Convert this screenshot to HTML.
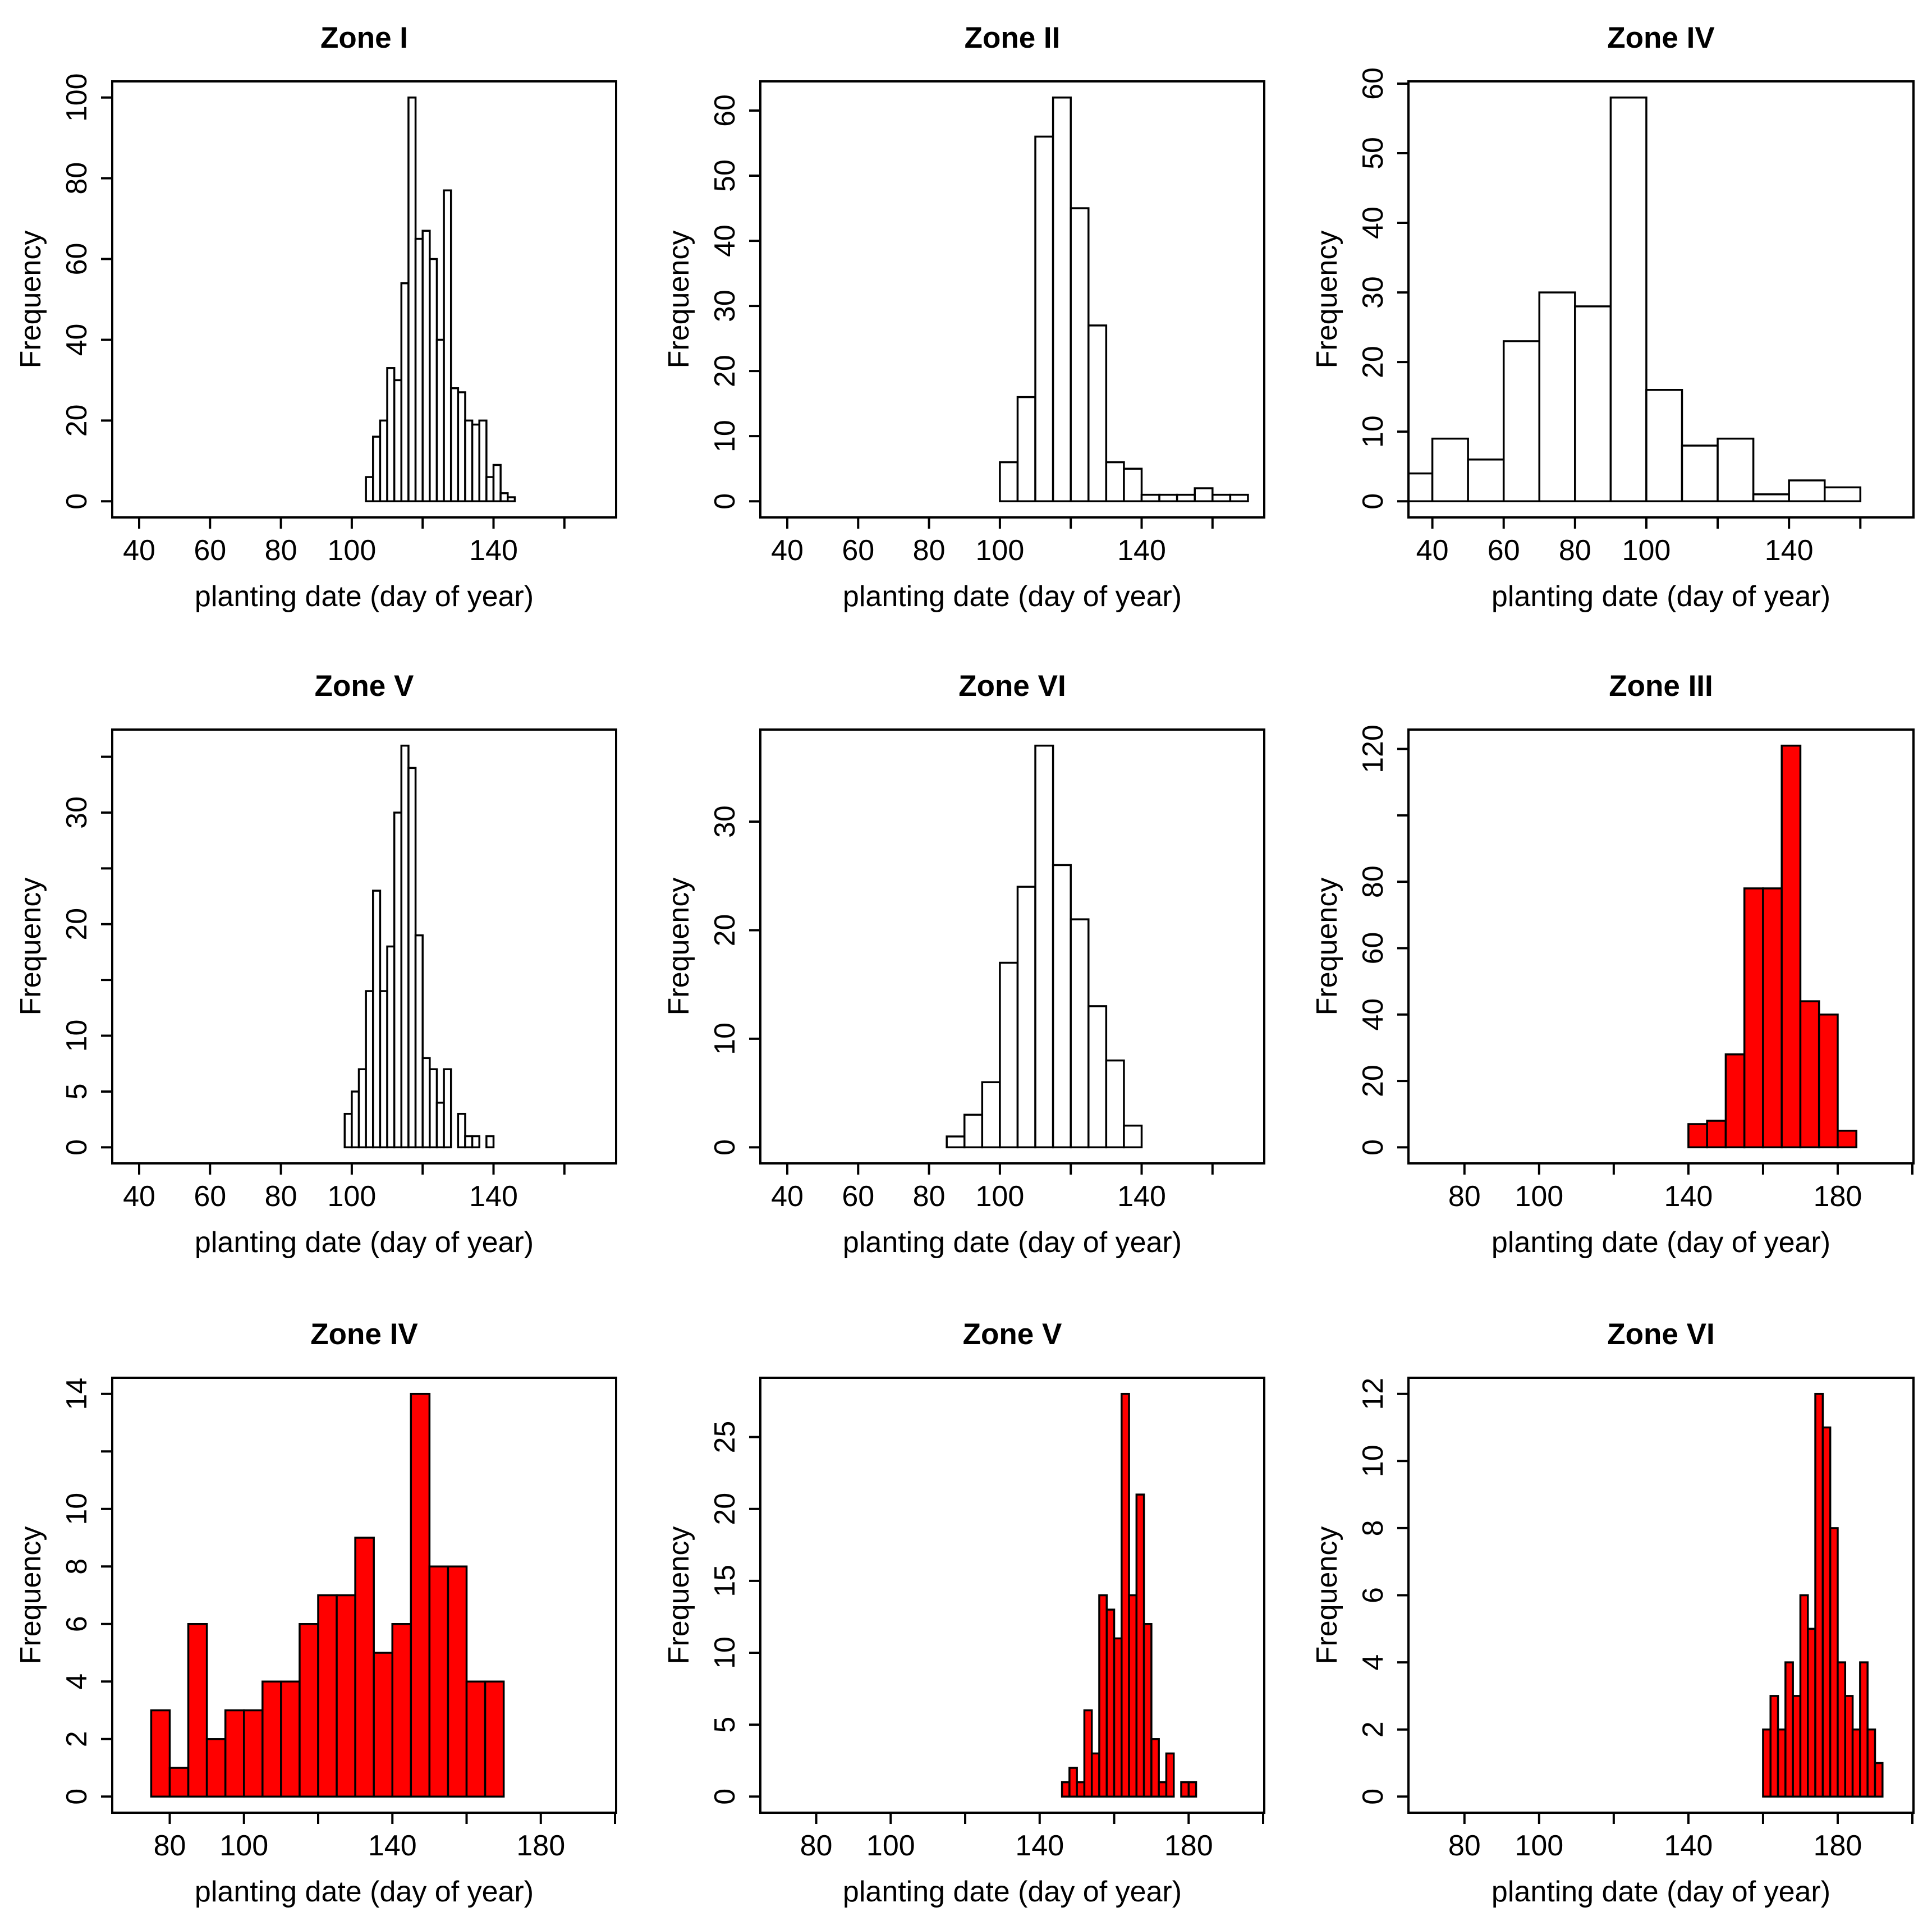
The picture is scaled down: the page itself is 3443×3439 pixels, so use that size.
<!DOCTYPE html>
<html><head><meta charset="utf-8"><style>
html,body{margin:0;padding:0;background:#fff;}
svg{display:block;}
text{font-family:"Liberation Sans",Arial,sans-serif;fill:#000;}
</style></head><body>
<svg id="fig" xmlns="http://www.w3.org/2000/svg" width="3443" height="3439" viewBox="0 0 3443 3439"></svg>
<script>
// ---- data (bin start, bin width, counts) ----
const titles = ["Zone I","Zone II","Zone IV","Zone V","Zone VI","Zone III","Zone IV","Zone V","Zone VI"];
const binStarts = [104,100,30,98,85,140,75,146,160];
const binWidths = [2,5,10,2,5,5,5,2,2];
const counts1 = [6,16,20,33,30,54,100,65,67,60,40,77,28,27,20,19,20,6,9,2,1];
const counts2 = [6,16,56,62,45,27,6,5,1,1,1,2,1,1];
const counts3 = [4,9,6,23,30,28,58,16,8,9,1,3,2];
const counts4 = [3,5,7,14,23,14,18,30,36,34,19,8,7,4,7,0,3,1,1,0,1];
const counts5 = [1,3,6,17,24,37,26,21,13,8,2];
const counts6 = [7,8,28,78,78,121,44,40,5];
const counts7 = [3,1,6,2,3,3,4,4,6,7,7,9,5,6,14,8,8,4,4];
const counts8 = [1,2,1,6,3,14,13,11,28,14,21,12,4,1,3,0,1,1];
const counts9 = [2,3,2,4,3,6,5,12,11,8,4,3,2,4,2,1];
const allCounts = [counts1,counts2,counts3,counts4,counts5,counts6,counts7,counts8,counts9];
const fills = ["#fff","#fff","#fff","#fff","#fff","#f00","#f00","#f00","#f00"];
const xTicksA = [40,60,80,100,120,140,160];
const xLabelsA = ["40","60","80","100","","140",""];
const xTicksB = [80,100,120,140,160,180,200];
const xLabelsB = ["80","100","","140","","180",""];
const yStep = [20,10,10,5,10,20,2,5,2];
const yHide = [[],[],[],[15,25,35],[],[100],[12],[],[]];
const xlims = [[32.4,174.6],[32.4,174.6],[33.3,174.9],[32.4,174.6],[32.4,174.6],[65,200.3],[64.5,200.3],[65,200.3],[65,200.3]];

const NS="http://www.w3.org/2000/svg";
const svg=document.getElementById('fig');
const colX=[[200,1098],[1355,2253],[2510,3410]];
const rowY=[[145,922],[1300,2073],[2455,3230]];
function mk(tag,attrs,parent){const e=document.createElementNS(NS,tag);for(const k in attrs)e.setAttribute(k,attrs[k]);parent.appendChild(e);return e;}

for(let p=0;p<9;p++){
  const c=p%3,r=Math.floor(p/3);
  const [L,R]=colX[c],[T,B]=rowY[r];
  const cnt=allCounts[p];
  const M=Math.max(...cnt);
  const y0=-0.04*M,y1=1.04*M;
  const [x0,x1]=xlims[p];
  const X=v=>L+(v-x0)/(x1-x0)*(R-L);
  const Y=v=>B-(v-y0)/(y1-y0)*(B-T);
  const g=mk('g',{},svg);
  
  
  const cp=mk('clipPath',{id:'cp'+p},g);
  mk('rect',{x:L,y:T,width:R-L,height:B-T},cp);
  const bars=mk('g',{'clip-path':'url(#cp'+p+')'},g);
  
  
  cnt.forEach((v,i)=>{
    const a=binStarts[p]+i*binWidths[p],b=a+binWidths[p];
    const rc=mk('rect',{x:X(a),y:Y(v),width:X(b)-X(a),height:Y(0)-Y(v),fill:fills[p],stroke:'#000','stroke-width':3.5},bars);
    
    
  });
  const box=mk('rect',{x:L,y:T,width:R-L,height:B-T,fill:'none',stroke:'#000','stroke-width':4},g);
  
  
  // x axis
  const xt=p<5?xTicksA:xTicksB, xl=p<5?xLabelsA:xLabelsB;
  const xa=mk('g',{},g);
  
  
  xt.forEach((v,i)=>{
    const x=X(v);
    mk('line',{x1:x,x2:x,y1:B,y2:B+20,stroke:'#000','stroke-width':4},xa);
    if(xl[i]){const t=mk('text',{x:x,y:B+76,'text-anchor':'middle','font-size':52},xa);t.textContent=xl[i];
      }
  });
  const xt2=mk('text',{x:(L+R)/2,y:B+158,'text-anchor':'middle','font-size':52},g);
  xt2.textContent='planting date (day of year)';
  
  
  // y axis
  const ya=mk('g',{},g);
  
  
  for(let v=0;v<=y1+1e-9;v+=yStep[p]){
    const y=Y(v);
    mk('line',{x1:L,x2:L-20,y1:y,y2:y,stroke:'#000','stroke-width':4},ya);
    if(!yHide[p].includes(v)){const t=mk('text',{x:L-46,y:y,'text-anchor':'middle','font-size':52,transform:`rotate(-90 ${L-46} ${y})`},ya);t.textContent=String(v);
      }
  }
  const yl=mk('text',{x:L-128,y:(T+B)/2,'text-anchor':'middle','font-size':52,transform:`rotate(-90 ${L-128} ${(T+B)/2})`},g);
  yl.textContent='Frequency';
  
  
  const tt=mk('text',{x:(L+R)/2,y:T-60,'text-anchor':'middle','font-size':53,'font-weight':'bold'},g);
  tt.textContent=titles[p];
  
  
}
</script>
</body></html>
